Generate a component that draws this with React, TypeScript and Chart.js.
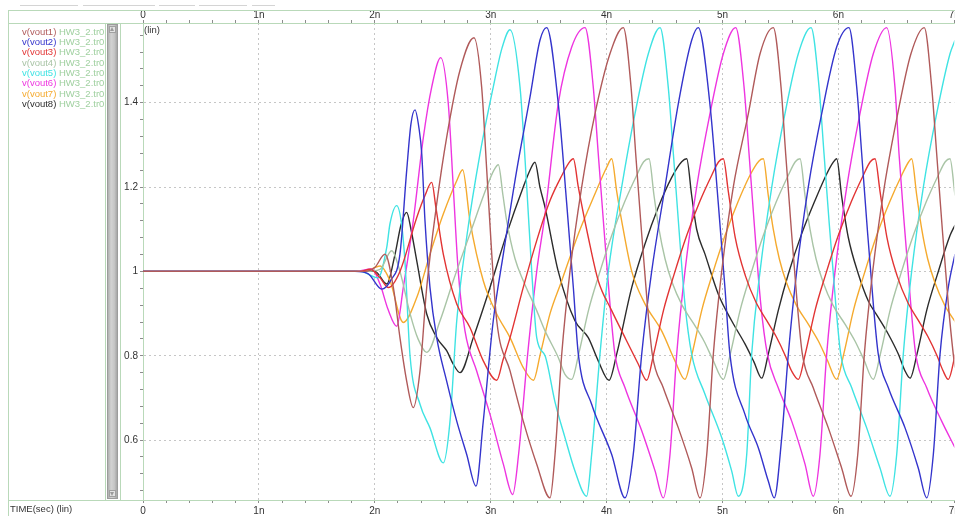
import React, { useEffect, useRef } from 'react';
import { Chart, registerables } from 'chart.js';

Chart.register(...registerables);

const FONT = "'Liberation Sans', Arial, sans-serif";

const seriesLabels = ['v(vout1)', 'v(vout2)', 'v(vout3)', 'v(vout4)', 'v(vout5)', 'v(vout6)', 'v(vout7)', 'v(vout8)'];
const fileLabel = 'HW3_2.tr0';
const seriesColors = ['#b05a5a', '#3434cc', '#e23434', '#a9c4a6', '#3fe3e3', '#ee35e0', '#f5aa2e', '#2c2c2c'];
const xMajorTicks = [0, 1, 2, 3, 4, 5, 6, 7];
const yMajorTicks = [0.6, 0.8, 1, 1.2, 1.4];

// time in ns, voltage in V
const vout1: [number, number][] = [[0,1],[1.915,1],[2.002,1.01],[2.088,1.041],[2.160,0.962],[2.217,0.843],[2.275,0.74],[2.332,0.677],[2.390,0.764],[2.448,0.962],[2.534,1.16],[2.620,1.318],[2.735,1.477],[2.856,1.554],[2.922,1.437],[2.966,1.239],[3.009,1.041],[3.052,0.883],[3.167,0.764],[3.281,0.645],[3.397,0.543],[3.512,0.463],[3.555,0.566],[3.613,0.804],[3.684,1.0],[3.785,1.2],[3.900,1.374],[4.029,1.516],[4.144,1.578],[4.211,1.437],[4.251,1.279],[4.294,1.12],[4.351,0.923],[4.394,0.804],[4.489,0.724],[4.619,0.629],[4.734,0.534],[4.806,0.463],[4.864,0.566],[4.921,0.804],[4.993,1.0],[5.093,1.2],[5.223,1.374],[5.324,1.516],[5.438,1.578],[5.505,1.437],[5.545,1.279],[5.588,1.12],[5.645,0.923],[5.689,0.804],[5.783,0.724],[5.913,0.629],[6.028,0.534],[6.109,0.467],[6.167,0.566],[6.224,0.804],[6.296,1.0],[6.396,1.2],[6.512,1.374],[6.626,1.516],[6.741,1.578],[6.805,1.437],[6.848,1.279],[6.891,1.12],[6.948,0.923],[6.991,0.804],[7.006,0.772]];

const vout2: [number, number][] = [[0,1],[1.829,1],[1.941,0.995],[2.060,0.958],[2.140,0.98],[2.217,1.041],[2.275,1.239],[2.312,1.35],[2.347,1.383],[2.381,1.34],[2.405,1.279],[2.433,1.12],[2.476,0.962],[2.534,0.843],[2.620,0.74],[2.707,0.645],[2.793,0.566],[2.873,0.491],[2.936,0.645],[3.022,0.883],[3.109,1.041],[3.224,1.239],[3.339,1.413],[3.425,1.548],[3.483,1.578],[3.583,1.398],[3.656,1.16],[3.713,0.962],[3.756,0.804],[3.871,0.685],[4.044,0.566],[4.159,0.463],[4.230,0.566],[4.303,0.804],[4.389,1.0],[4.504,1.2],[4.619,1.398],[4.734,1.548],[4.791,1.578],[4.891,1.398],[4.964,1.16],[5.021,0.962],[5.064,0.804],[5.194,0.661],[5.309,0.582],[5.395,0.503],[5.447,0.463],[5.511,0.606],[5.568,0.804],[5.640,1.0],[5.740,1.2],[5.856,1.374],[5.985,1.532],[6.091,1.578],[6.158,1.437],[6.201,1.279],[6.244,1.12],[6.301,0.923],[6.344,0.804],[6.431,0.724],[6.575,0.629],[6.689,0.534],[6.762,0.463],[6.819,0.566],[6.877,0.804],[6.948,0.962],[7.006,1.041]];

const vout3: [number, number][] = [[0,1],[1.872,1],[1.959,1.005],[2.045,0.985],[2.117,0.962],[2.217,1.0],[2.362,1.128],[2.433,1.18],[2.491,1.211],[2.528,1.15],[2.591,1.041],[2.707,0.923],[2.821,0.867],[2.936,0.788],[3.052,0.742],[3.106,0.79],[3.167,0.843],[3.281,0.962],[3.397,1.073],[3.512,1.168],[3.615,1.228],[3.676,1.258],[3.713,1.267],[3.756,1.2],[3.842,1.081],[3.928,0.978],[4.044,0.907],[4.159,0.843],[4.274,0.78],[4.346,0.742],[4.406,0.804],[4.493,0.91],[4.579,0.99],[4.691,1.085],[4.803,1.165],[4.907,1.228],[4.967,1.26],[5.007,1.267],[5.050,1.19],[5.110,1.08],[5.197,0.99],[5.292,0.925],[5.378,0.885],[5.464,0.845],[5.542,0.80],[5.594,0.765],[5.654,0.744],[5.714,0.804],[5.801,0.91],[5.887,0.99],[5.999,1.085],[6.111,1.165],[6.215,1.228],[6.275,1.26],[6.316,1.267],[6.359,1.19],[6.419,1.08],[6.506,0.99],[6.601,0.925],[6.687,0.885],[6.773,0.845],[6.851,0.80],[6.902,0.765],[6.948,0.744],[7.009,0.804]];

const vout4: [number, number][] = [[0,1],[1.915,1],[2.045,1.005],[2.146,1.049],[2.217,1.0],[2.304,0.90],[2.373,0.84],[2.448,0.808],[2.563,0.883],[2.677,0.978],[2.821,1.089],[2.966,1.2],[3.028,1.24],[3.066,1.253],[3.106,1.18],[3.138,1.12],[3.210,1.03],[3.281,0.978],[3.397,0.907],[3.469,0.859],[3.583,0.796],[3.641,0.756],[3.699,0.744],[3.759,0.804],[3.846,0.91],[3.932,0.99],[4.044,1.085],[4.156,1.165],[4.260,1.228],[4.320,1.26],[4.366,1.267],[4.409,1.18],[4.452,1.10],[4.504,1.03],[4.564,0.975],[4.651,0.92],[4.754,0.875],[4.840,0.835],[4.918,0.79],[5.007,0.744],[5.067,0.804],[5.154,0.91],[5.240,0.99],[5.352,1.085],[5.464,1.165],[5.568,1.228],[5.628,1.26],[5.669,1.267],[5.712,1.18],[5.755,1.10],[5.807,1.03],[5.867,0.975],[5.953,0.92],[6.057,0.875],[6.143,0.835],[6.221,0.79],[6.301,0.744],[6.362,0.804],[6.448,0.91],[6.534,0.99],[6.646,1.085],[6.758,1.165],[6.862,1.228],[6.922,1.26],[6.963,1.267],[7.006,1.18]];

const vout5: [number, number][] = [[0,1],[1.872,1],[2.028,0.985],[2.103,1.057],[2.131,1.113],[2.189,1.156],[2.232,1.11],[2.261,1.02],[2.304,0.80],[2.390,0.685],[2.476,0.629],[2.591,0.546],[2.649,0.645],[2.707,0.883],[2.793,1.081],[2.908,1.279],[3.022,1.437],[3.098,1.53],[3.167,1.573],[3.253,1.437],[3.311,1.2],[3.354,1.0],[3.397,0.843],[3.469,0.80],[3.555,0.69],[3.641,0.606],[3.727,0.527],[3.828,0.467],[3.871,0.566],[3.943,0.804],[4.015,1.0],[4.130,1.2],[4.245,1.374],[4.360,1.516],[4.461,1.578],[4.532,1.437],[4.576,1.279],[4.619,1.12],[4.676,0.923],[4.734,0.804],[4.849,0.709],[4.993,0.606],[5.079,0.527],[5.136,0.467],[5.209,0.566],[5.252,0.804],[5.324,1.0],[5.425,1.2],[5.539,1.374],[5.654,1.516],[5.764,1.578],[5.833,1.437],[5.876,1.279],[5.919,1.12],[5.977,0.923],[6.020,0.804],[6.115,0.724],[6.244,0.629],[6.359,0.534],[6.445,0.467],[6.503,0.566],[6.560,0.804],[6.632,1.0],[6.733,1.2],[6.848,1.374],[6.963,1.516],[7.006,1.548]];

const vout6: [number, number][] = [[0,1],[1.829,1],[1.973,1.006],[2.045,0.97],[2.114,0.91],[2.189,0.87],[2.246,0.962],[2.332,1.12],[2.419,1.318],[2.491,1.437],[2.569,1.507],[2.634,1.398],[2.677,1.2],[2.720,1.0],[2.778,0.859],[2.879,0.764],[2.994,0.661],[3.109,0.543],[3.190,0.471],[3.242,0.57],[3.319,0.804],[3.397,1.0],[3.469,1.136],[3.583,1.398],[3.699,1.532],[3.814,1.578],[3.885,1.437],[3.928,1.279],[3.972,1.12],[4.029,0.923],[4.072,0.804],[4.159,0.724],[4.303,0.622],[4.418,0.527],[4.489,0.463],[4.547,0.566],[4.605,0.804],[4.676,1.0],[4.777,1.2],[4.892,1.374],[5.007,1.516],[5.114,1.578],[5.186,1.437],[5.229,1.279],[5.272,1.12],[5.330,0.923],[5.387,0.804],[5.481,0.724],[5.597,0.645],[5.712,0.543],[5.783,0.467],[5.841,0.566],[5.899,0.804],[5.971,1.0],[6.072,1.2],[6.186,1.374],[6.301,1.516],[6.417,1.578],[6.488,1.437],[6.523,1.279],[6.566,1.12],[6.624,0.923],[6.667,0.804],[6.762,0.724],[6.891,0.645],[7.006,0.582]];

const vout7: [number, number][] = [[0,1],[1.915,1],[2.045,1.013],[2.131,0.978],[2.246,0.879],[2.362,0.938],[2.476,1.041],[2.591,1.136],[2.707,1.215],[2.758,1.241],[2.821,1.12],[2.936,0.978],[3.052,0.899],[3.167,0.843],[3.281,0.772],[3.368,0.742],[3.428,0.804],[3.512,0.90],[3.613,0.978],[3.756,1.089],[3.900,1.184],[4.001,1.247],[4.044,1.267],[4.087,1.19],[4.130,1.12],[4.217,1.0],[4.331,0.923],[4.475,0.859],[4.590,0.788],[4.676,0.744],[4.737,0.804],[4.823,0.91],[4.909,0.99],[5.022,1.085],[5.134,1.165],[5.237,1.228],[5.315,1.262],[5.352,1.267],[5.395,1.18],[5.438,1.10],[5.490,1.03],[5.550,0.975],[5.637,0.92],[5.740,0.875],[5.827,0.835],[5.904,0.79],[5.985,0.744],[6.046,0.804],[6.132,0.91],[6.218,0.99],[6.330,1.085],[6.443,1.165],[6.546,1.228],[6.607,1.26],[6.632,1.267],[6.676,1.18],[6.719,1.10],[6.770,1.03],[6.831,0.975],[6.917,0.92],[7.021,0.875]];

const vout8: [number, number][] = [[0,1],[1.872,1],[2.002,1.0],[2.103,0.97],[2.174,1.04],[2.226,1.11],[2.275,1.14],[2.312,1.10],[2.362,1.025],[2.448,0.899],[2.534,0.843],[2.620,0.812],[2.677,0.78],[2.735,0.76],[2.850,0.843],[2.994,0.962],[3.138,1.089],[3.281,1.2],[3.339,1.24],[3.382,1.259],[3.425,1.2],[3.469,1.152],[3.583,1.0],[3.727,0.883],[3.842,0.843],[3.928,0.788],[4.021,0.742],[4.087,0.804],[4.217,0.962],[4.331,1.065],[4.446,1.152],[4.562,1.223],[4.648,1.26],[4.691,1.267],[4.734,1.18],[4.777,1.10],[4.849,1.041],[4.964,0.946],[5.079,0.883],[5.194,0.828],[5.272,0.785],[5.338,0.747],[5.395,0.804],[5.481,0.907],[5.568,0.994],[5.683,1.089],[5.798,1.168],[5.899,1.231],[5.956,1.259],[5.985,1.267],[6.029,1.176],[6.085,1.081],[6.172,0.994],[6.258,0.93],[6.344,0.891],[6.431,0.851],[6.517,0.804],[6.575,0.764],[6.618,0.747],[6.678,0.804],[6.764,0.91],[6.851,0.99],[6.963,1.085],[7.006,1.11]];

const seriesData = [vout1, vout2, vout3, vout4, vout5, vout6, vout7, vout8];

const near = (v: number, list: number[]) => list.some((m) => Math.abs(m - v) < 1e-6);
const nsLabel = (v: number) => (Math.round(v) === 0 ? '0' : Math.round(v) + 'n');
const GRID = '#c6c6c6';
const FRAME = '#b9d9b9';
const TICK = '#8c8c8c';

function xScale(position: 'top' | 'bottom', h: number, pad: number) {
  return {
    type: 'linear',
    position,
    min: 0,
    max: 7,
    ticks: {
      stepSize: 0.2,
      autoSkip: false,
      maxRotation: 0,
      includeBounds: false,
      padding: pad,
      color: '#333',
      font: { family: FONT, size: 10 },
      callback: (v: number) => (near(v, xMajorTicks) ? nsLabel(v) : ''),
    },
    grid: {
      drawOnChartArea: position === 'bottom',
      color: (c: any) =>
        c.tick && near(c.tick.value, xMajorTicks) && c.tick.value > 0.5 && c.tick.value < 6.5 ? GRID : 'rgba(0,0,0,0)',
      lineWidth: 1,
      tickColor: TICK,
      tickLength: 3,
      drawTicks: true,
    },
    border: { display: true, color: FRAME, width: 1, dash: [2, 3] },
    afterFit: (s: any) => {
      s.height = h;
      s.paddingLeft = 0;
      s.paddingRight = 0;
    },
  };
}

export default function App() {
  const ref = useRef<HTMLCanvasElement | null>(null);

  useEffect(() => {
    if (!ref.current) return;
    const chart = new Chart(ref.current, {
      type: 'line',
      data: {
        datasets: seriesData.map((pts, i) => ({
          label: seriesLabels[i],
          data: pts.map(([x, y]) => ({ x, y })),
          borderColor: seriesColors[i],
          backgroundColor: seriesColors[i],
          borderWidth: 1.4,
          pointRadius: 0,
          fill: false,
          cubicInterpolationMode: 'monotone',
          xAxisID: 'x',
          yAxisID: 'y',
        })),
      },
      options: {
        responsive: false,
        devicePixelRatio: 1,
        animation: false,
        events: [],
        layout: { autoPadding: false, padding: { left: 120, top: 10, right: 0.7, bottom: 0 } },
        plugins: { legend: { display: false }, tooltip: { enabled: false } },
        scales: {
          x: xScale('bottom', 16, 2),
          x2: xScale('top', 13, -1.5),
          y: {
            type: 'linear',
            min: 0.458,
            max: 1.589,
            ticks: {
              stepSize: 0.04,
              includeBounds: false,
              autoSkip: false,
              padding: 2,
              color: '#333',
              font: { family: FONT, size: 10 },
              callback: (v: number) => (near(v, yMajorTicks) ? String(Math.round(v * 10) / 10) : ''),
            },
            grid: {
              color: (c: any) => (c.tick && near(c.tick.value, yMajorTicks) ? GRID : 'rgba(0,0,0,0)'),
              tickColor: TICK,
              tickLength: 3,
              lineWidth: 1,
            },
            border: { display: true, color: FRAME, width: 1, dash: [2, 3] },
            afterFit: (s: any) => {
              s.width = 23;
              s.paddingTop = 0;
              s.paddingBottom = 0;
            },
          },
        },
      } as any,
    } as any);
    return () => chart.destroy();
  }, []);

  const line = (l: number, t: number, w: number, h: number, c: string) => (
    <div style={{ position: 'absolute', left: l, top: t, width: w, height: h, background: c }} />
  );

  return (
    <div style={{ position: 'absolute', left: 0, top: 0, width: 955, height: 516, background: '#fff', fontFamily: FONT, overflow: 'hidden' }}>
      <canvas ref={ref} width={955} height={516} style={{ position: 'absolute', left: 0, top: 0, width: 955, height: 516 }} />
      {/* header tabs */}
      {line(20, 5, 58, 1, '#d4d4d4')}
      {line(83, 5, 72, 1, '#d4d4d4')}
      {line(159, 5, 36, 1, '#d4d4d4')}
      {line(199, 5, 48, 1, '#d4d4d4')}
      {line(252, 5, 23, 1, '#d4d4d4')}
      {/* frame */}
      {line(8, 10, 947, 1, FRAME)}
      {line(8, 10, 1, 506, FRAME)}
      {line(8, 23, 135, 1, FRAME)}
      {line(8, 500, 135, 1, FRAME)}
      {/* scrollbar */}
      {line(105, 23, 1, 477, FRAME)}
      {line(120, 23, 1, 477, FRAME)}
      <div
        style={{
          position: 'absolute', left: 107, top: 24, width: 11, height: 475, boxSizing: 'border-box',
          border: '1px solid #9c9c9c', background: 'linear-gradient(to right, #b0b0b0, #d2d2d2 35%, #c6c6c6 70%, #a6a6a6)',
        }}
      />
      <div style={{ position: 'absolute', left: 109, top: 26, width: 7, height: 7, background: '#e2e2e2', border: '1px solid #a0a0a0', boxSizing: 'border-box' }} />
      <div style={{ position: 'absolute', left: 110, top: 27, width: 0, height: 0, borderLeft: '2.5px solid transparent', borderRight: '2.5px solid transparent', borderBottom: '4px solid #9a9a9a' }} />
      <div style={{ position: 'absolute', left: 109, top: 490, width: 7, height: 7, background: '#e2e2e2', border: '1px solid #a0a0a0', boxSizing: 'border-box' }} />
      <div style={{ position: 'absolute', left: 110, top: 492, width: 0, height: 0, borderLeft: '2.5px solid transparent', borderRight: '2.5px solid transparent', borderTop: '4px solid #9a9a9a' }} />
      {/* legend */}
      {seriesLabels.map((name, i) => (
        <div
          key={name}
          style={{ position: 'absolute', left: 22, top: 26.5 + i * 10.35, fontSize: 9.5, lineHeight: '10px', whiteSpace: 'nowrap' }}
        >
          <span style={{ color: seriesColors[i] }}>{name}</span>
          <span style={{ color: '#9fd09f' }}> {fileLabel}</span>
        </div>
      ))}
      <div style={{ position: 'absolute', left: 144, top: 25, fontSize: 9.5, lineHeight: '10px', color: '#333' }}>(lin)</div>
      <div style={{ position: 'absolute', left: 10, top: 504, fontSize: 9.5, lineHeight: '10px', color: '#333', whiteSpace: 'nowrap' }}>TIME(sec) (lin)</div>
    </div>
  );
}
